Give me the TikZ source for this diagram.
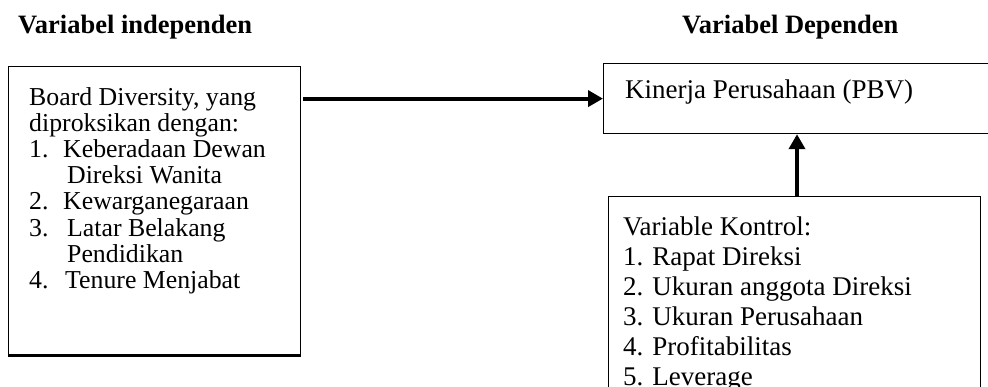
\documentclass[tikz,border=0pt]{standalone}
\usepackage{fontspec}
\setmainfont{Liberation Serif}
\usetikzlibrary{arrows.meta}
\tikzset{
  boxnode/.style={draw, line width=1.2pt, inner sep=0pt, anchor=north west},
  txt/.style={inner sep=0pt, anchor=north west, align=left},
  hdr/.style={inner sep=0pt, anchor=base west, font=\fontsize{26.5}{30}\selectfont\bfseries},
  bigarrow/.style={line width=4pt, -{Triangle[length=15pt,width=16pt]}}
}
\begin{document}
\begin{tikzpicture}[x=1pt,y=-1pt]
\useasboundingbox (0,0) rectangle (988,387);
\clip (0,0) rectangle (988,387);
% headers
\node[hdr] (h1) at (18,34) {Variabel independen};
\node[hdr] (h2) at (682,34) {Variabel Dependen};
% boxes
\node[boxnode, minimum width=292pt, minimum height=288pt] (indep) at (8,66) {};
\draw[line width=2.6pt] (indep.south west) -- (indep.south east);
\node[boxnode, minimum width=400pt, minimum height=70pt] (dep) at (603,63) {};
\node[boxnode, minimum width=372pt, minimum height=230pt] (ctrl) at (608,196) {};
% texts
\node[txt, font=\fontsize{25.8}{26.2}\selectfont] (indeptxt) at (29,87) {Board Diversity, yang\\
diproksikan dengan:\\
\makebox[34pt][l]{1.}Keberadaan Dewan\\
\hspace*{38pt}Direksi Wanita\\
\makebox[34pt][l]{2.}Kewarganegaraan\\
\makebox[38pt][l]{3.}Latar Belakang\\
\hspace*{38pt}Pendidikan\\
\makebox[36pt][l]{4.}Tenure Menjabat};
\node[txt, font=\fontsize{27}{30}\selectfont] (deptxt) at (625,80) {Kinerja Perusahaan (PBV)};
\node[txt, font=\fontsize{27}{30}\selectfont] (ctrltxt) at (623,217) {Variable Kontrol:\\
1. Rapat Direksi\\
2. Ukuran anggota Direksi\\
3. Ukuran Perusahaan\\
4. Profitabilitas\\
5. Leverage};
% arrows
\coordinate (vx) at (797,0);
\draw[bigarrow] (indep.east |- dep.west) ++(2,0) -- (dep.west);
\draw[bigarrow] (ctrl.north -| vx) -- (dep.south -| vx);
\end{tikzpicture}
\end{document}
